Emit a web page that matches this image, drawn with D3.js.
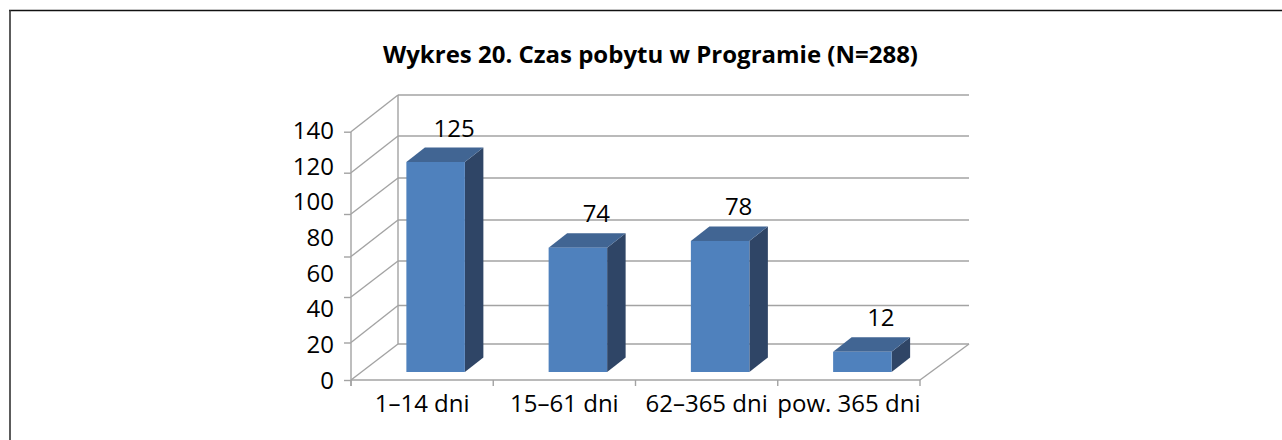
<!DOCTYPE html>
<html><head><meta charset="utf-8"><style>html,body{margin:0;background:#fff;overflow:hidden}svg{display:block}text{font-family:"Open Sans",sans-serif;fill:#000}</style>
<script src="https://cdn.jsdelivr.net/npm/d3@7"></script></head><body><script>
const titleText = "Wykres 20. Czas pobytu w Programie (N=288)";
const categories = ["1–14 dni","15–61 dni","62–365 dni","pow. 365 dni"];
const values = [125,74,78,12];
const yTicks = [0,20,40,60,80,100,120,140];
const gridLevels = [0,1,2,3,4,5,6];

const W=1282,H=440;
const GRID="#a3a3a3", FRONT="#4f81bd", TOP="#416593", SIDE="#2f4566";
const DX=18.5, DY=-14.5;           // bar depth offset
const FONT=24;

const svg=d3.select("body").append("svg").attr("width",W).attr("height",H);

// page frame: top and left rules only
svg.append("line").attr("x1",9).attr("x2",W).attr("y1",10.5).attr("y2",10.5).attr("stroke","#111").attr("stroke-width",1.5);
svg.append("line").attr("x1",10).attr("x2",10).attr("y1",10).attr("y2",H).attr("stroke","#333").attr("stroke-width",1.6);

svg.append("text").attr("x",650.5).attr("y",63).attr("text-anchor","middle")
  .attr("font-weight",700).attr("font-size",22.5).attr("textLength",535).attr("lengthAdjust","spacingAndGlyphs").text(titleText);

// scales
const yAxisScale=d3.scaleLinear().domain([0,140]).range([380.5,131]);
const gridFront=d3.scaleLinear().domain(gridLevels).range([380,342.5,297,256.5,214,172.7,131.7]);
const gridBack=d3.scaleLinear().domain(gridLevels).range([344,305.5,261,220,178,136,95]);
const x=d3.scaleBand().domain(categories).range([351,920]);
const barH=d3.scaleLinear().domain([0,125]).range([372,162]);
const barW=58.5, barShift=13.5;

// walls and floor
const g=svg.append("g").attr("fill","none").attr("stroke",GRID).attr("stroke-width",1.4);
g.selectAll(".diag").data(gridLevels).join("line")
  .attr("x1",351).attr("x2",398).attr("y1",d=>gridFront(d)).attr("y2",d=>gridBack(d));
g.selectAll(".grid").data(gridLevels).join("line")
  .attr("x1",398).attr("x2",969).attr("y1",d=>gridBack(d)).attr("y2",d=>gridBack(d));
g.append("line").attr("x1",398).attr("x2",398).attr("y1",gridBack(0)).attr("y2",gridBack(6));
g.append("line").attr("x1",920).attr("x2",969).attr("y1",gridFront(0)).attr("y2",gridBack(0));

// y axis
const yAxis=svg.append("g").attr("transform","translate(351,0)")
  .call(d3.axisLeft(yAxisScale).tickValues(yTicks).tickSize(7).tickPadding(10).tickFormat(d3.format("d")));
yAxis.selectAll("text").attr("font-size",FONT).attr("font-family",'"Open Sans",sans-serif').attr("dy","0.32em");
yAxis.selectAll("line").attr("stroke",GRID).attr("stroke-width",1.4)
  .attr("transform",(d,i)=>`translate(0,${gridFront(Math.min(i,6))-yAxisScale(yTicks[i])})`)
  .attr("display",(d,i)=>i<7?null:"none");
yAxis.select(".domain").remove();
svg.append("line").attr("x1",351).attr("x2",351).attr("y1",gridFront(6)).attr("y2",gridFront(0)+6).attr("stroke",GRID).attr("stroke-width",1.4);

// x axis
const xAxis=svg.append("g").attr("transform","translate(0,380)")
  .call(d3.axisBottom(x).tickSize(0).tickPadding(14.5));
xAxis.select(".domain").remove();
xAxis.selectAll("text").attr("font-size",FONT).attr("font-family",'"Open Sans",sans-serif');
const xEdges=categories.map(c=>x(c)).concat([x.range()[1]]);
svg.append("line").attr("x1",351).attr("x2",920).attr("y1",380).attr("y2",380).attr("stroke",GRID).attr("stroke-width",1.4);
svg.selectAll(".xtick").data(xEdges).join("line").attr("x1",d=>d).attr("x2",d=>d).attr("y1",380).attr("y2",386).attr("stroke",GRID).attr("stroke-width",1.4);

// bars
const bars=svg.selectAll(".bar").data(categories.map((c,i)=>({c,v:values[i]}))).join("g");
const bx=d=>x(d.c)+x.bandwidth()/2+barShift-barW/2;
bars.append("path").attr("fill",SIDE).attr("d",d=>{
  const r=bx(d)+barW,t=barH(d.v),b=barH(0);
  return `M${r} ${t}L${r+DX} ${t+DY}L${r+DX} ${b+DY}L${r} ${b}Z`;});
bars.append("path").attr("fill",TOP).attr("d",d=>{
  const l=bx(d),r=l+barW,t=barH(d.v);
  return `M${l} ${t}L${l+DX} ${t+DY}L${r+DX} ${t+DY}L${r} ${t}Z`;});
bars.append("rect").attr("fill",FRONT).attr("x",bx).attr("width",barW)
  .attr("y",d=>barH(d.v)).attr("height",d=>barH(0)-barH(d.v));
bars.append("text").attr("text-anchor","middle").attr("font-size",FONT)
  .attr("x",d=>bx(d)+barW/2+DX).attr("y",d=>barH(d.v)-25.5).text(d=>d.v);
</script></body></html>
